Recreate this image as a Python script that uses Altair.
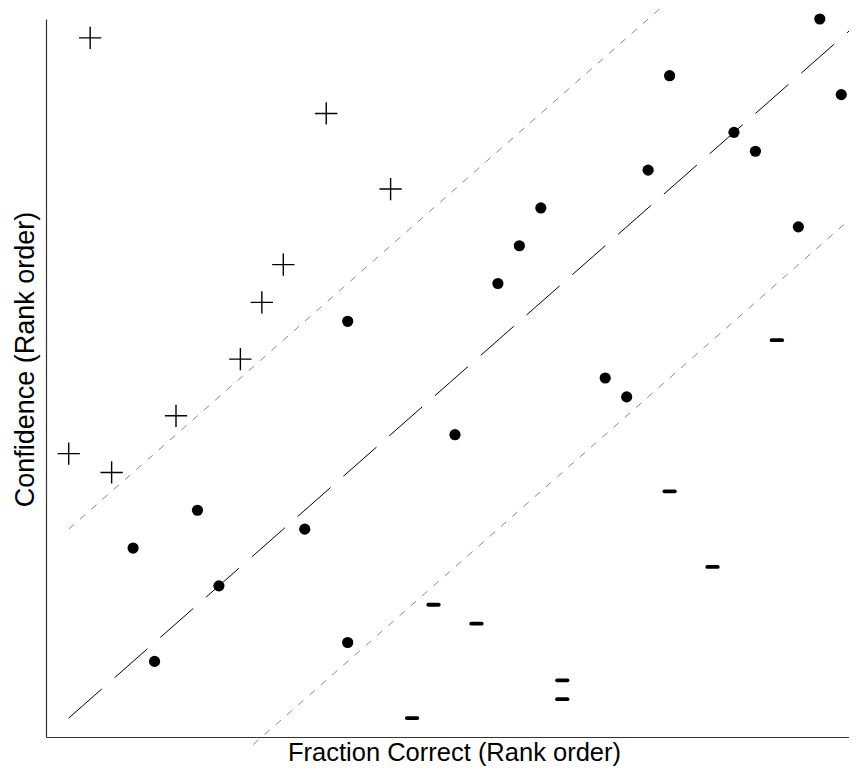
import altair as alt
import pandas as pd

# Rank of each item on fraction correct (x) and on confidence (y)
frac_rank = [1, 2, 3, 4, 5, 6, 7, 8, 9, 10, 11, 12, 13, 14, 14, 16, 17, 18, 19,
             20, 21, 22, 23, 24, 24, 26, 27, 28, 29, 29, 31, 32, 33, 34, 35, 36, 37]
conf_rank = [15, 37, 14, 10, 4, 17, 12, 8, 20, 23, 25, 11, 33, 22, 5, 29, 1, 7, 16,
             6, 24, 26, 28, 3, 2, 19, 18, 30, 35, 13, 9, 32, 31, 21, 27, 38, 34]
group = ["over", "over", "over", "mid", "mid", "over", "mid", "mid", "over", "over",
         "over", "mid", "over", "mid", "mid", "over", "under", "under", "mid", "under",
         "mid", "mid", "mid", "under", "under", "mid", "mid", "mid", "mid", "under",
         "under", "mid", "mid", "under", "mid", "mid", "mid"]

# Reference lines (identity and +/-10 rank bands), end points in rank units
line_name = ["diag", "diag", "upper", "upper", "lower", "lower"]
line_x = [1, 38, 1, 29, 9.6, 38]
line_y = [1, 38, 11, 39, -0.4, 28]

pts = pd.DataFrame({"x": frac_rank, "y": conf_rank, "group": group})
lines = pd.DataFrame({"x": line_x, "y": line_y, "name": line_name})

FONT = "Liberation Sans, Arial, Helvetica, sans-serif"

xs = alt.Scale(domain=[-0.058, 37.36], nice=False, zero=False)
ys = alt.Scale(domain=[0, 38], nice=False, zero=False)

xaxis = alt.Axis(title="Fraction Correct (Rank order)", labels=False, ticks=False,
                 grid=False, domain=True, domainColor="#333", domainWidth=1.2,
                 titleFont=FONT, titleFontSize=25.5, titleFontWeight="normal",
                 titleColor="black", titleX=408, titleY=23.5, titleAlign="center",
                 titleBaseline="alphabetic")
yaxis = alt.Axis(title="Confidence (Rank order)", labels=False, ticks=False,
                 grid=False, domain=True, domainColor="#333", domainWidth=1.2,
                 titleFont=FONT, titleFontSize=27, titleFontWeight="normal",
                 titleColor="black", titleX=-12.7, titleY=340, titleAlign="center",
                 titleBaseline="alphabetic", titleAngle=270)

X = alt.X("x:Q", scale=xs, axis=xaxis)
Y = alt.Y("y:Q", scale=ys, axis=yaxis)

diag = alt.Chart(lines).transform_filter(alt.datum.name == "diag").mark_line(
    color="black", strokeWidth=1, strokeDash=[44, 17], clip=False
).encode(x=X, y=Y)

bands = alt.Chart(lines).transform_filter(alt.datum.name != "diag").mark_line(
    color="#888", strokeWidth=1, strokeDash=[7, 8], clip=False
).encode(x=X, y=Y, detail="name:N")

dots = alt.Chart(pts).transform_filter(alt.datum.group == "mid").mark_point(
    shape="circle", filled=True, color="black", size=125, opacity=1
).encode(x=X, y=Y)

plus = alt.Chart(pts).transform_filter(alt.datum.group == "over").mark_point(
    shape="M-1,0L1,0M0,-1L0,1", filled=False, color="black", strokeWidth=1.4,
    size=497, opacity=1
).encode(x=X, y=Y)

minus = alt.Chart(pts).transform_filter(alt.datum.group == "under").mark_point(
    shape="M-1,0L1,0", filled=False, color="black", strokeWidth=3.8,
    strokeCap="round", size=110, opacity=1
).encode(x=X, y=Y)

chart = alt.layer(bands, diag, dots, plus, minus).properties(
    width=803, height=718,
    autosize=alt.AutoSizeParams(type="none"),
    padding={"left": 38, "top": 11, "right": 0, "bottom": 29},
    background="white",
).configure_view(stroke=None)

chart.save("out.html", embed_options={"renderer": "svg", "actions": False})
